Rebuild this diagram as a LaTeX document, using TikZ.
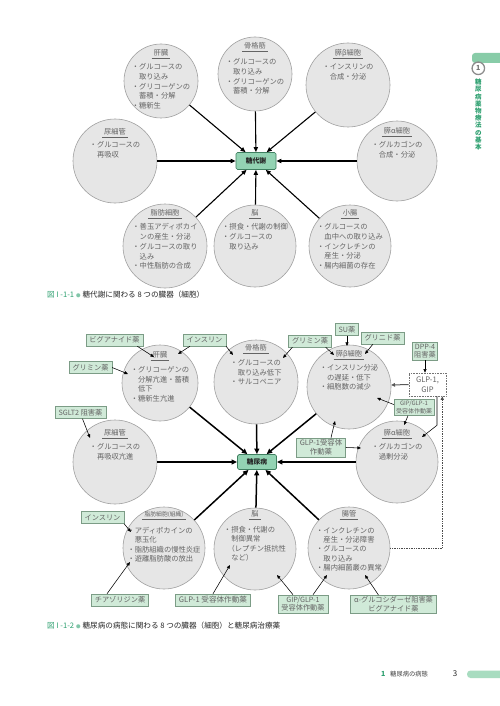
\documentclass[tikz,border=0pt]{standalone}
\usepackage{fontspec}
\setmainfont{Noto Sans CJK JP}
\usetikzlibrary{arrows.meta}
\definecolor{cfill}{HTML}{E6E6E6}
\definecolor{cline}{HTML}{A0A0A0}
\definecolor{tgray}{HTML}{646464}
\definecolor{hubfill}{HTML}{93D3B3}
\definecolor{hubline}{HTML}{3F7F60}
\definecolor{dfill}{HTML}{D0EAD8}
\definecolor{dline}{HTML}{7C9C86}
\definecolor{capgreen}{HTML}{2EA070}
\definecolor{tabgreen}{HTML}{88CCA8}
\definecolor{bargreen}{HTML}{A8DCC0}
\newcommand{\jin}{\hspace*{1em}}
\newcommand{\orgn}[8]{%
  \node[organ, minimum size=2*#4pt] (#1) at (#2,#3) {};
  \node[otitle] (#1t) at (#2,#5) {#7};
  \draw[uline] ([xshift=-2pt,yshift=-1.4pt]#1t.south west) -- ([xshift=2pt,yshift=-1.4pt]#1t.south east);
  \node[obody] (#1b) at (#2,#6) {#8};
}
\begin{document}
\begin{tikzpicture}[x=1pt,y=-1pt,
  organ/.style={circle,draw=cline,fill=cfill,line width=0.6pt,inner sep=0pt},
  otitle/.style={font=\fontsize{7.2}{8}\selectfont,text=tgray,inner sep=0pt},
  obody/.style={font=\fontsize{7.3}{\orgleading}\selectfont,text=tgray,align=left,inner sep=0pt,anchor=north},
  uline/.style={draw=tgray,line width=0.45pt},
  hub/.style={draw=hubline,fill=hubfill,rounded corners=1.5pt,line width=0.7pt,font=\fontsize{6.8}{8}\selectfont\bfseries,text=black!85,inner sep=0pt},
  drug/.style={draw=dline,fill=dfill,line width=0.5pt,font=\fontsize{7.2}{8.6}\selectfont,text=tgray,inner xsep=3.4pt,inner ysep=1.6pt,align=center,minimum height=12pt},
  glpbox/.style={draw=black!55,densely dotted,line width=0.6pt,fill=white,font=\fontsize{7.6}{9.5}\selectfont,text=tgray,align=center,inner xsep=2pt,inner ysep=1.5pt,minimum width=37pt,minimum height=23pt},
  conn/.style={-{Triangle[length=5pt,width=4.2pt]},line width=1.1pt},
  connb/.style={-{Triangle[length=5.5pt,width=4.8pt]},line width=1.5pt},
  darr/.style={-{Triangle[length=3.6pt,width=3pt]},line width=0.55pt},
  garr/.style={-{Triangle[length=4pt,width=3.5pt]},line width=1pt,black!65},
  dotarr/.style={densely dotted,line width=0.7pt,black!70,-{Triangle[length=3.5pt,width=3pt]}},
  capt/.style={anchor=west,inner sep=0pt,font=\fontsize{7.6}{9}\selectfont,text=black!85}
]
\fill[white] (0,0) rectangle (500,706);
\useasboundingbox (0,0) rectangle (500,706);

% ---------- Figure 1 ----------
\def\orgleading{9.7}
\node[hub, minimum width=40pt, minimum height=17pt] (hub1) at (256,161) {糖代謝};
\orgn{liv1}{161}{81}{37}{53}{63.5}{肝臓}{・グルコースの\\\jin 取り込み\\・グリコーゲンの\\\jin 蓄積・分解\\・糖新生}
\orgn{mus1}{255}{74}{37}{46}{58.5}{骨格筋}{・グルコースの\\\jin 取り込み\\・グリコーゲンの\\\jin 蓄積・分解}
\orgn{beta1}{348}{85}{42}{53}{63.5}{膵β細胞}{・インスリンの\\\jin 合成・分泌}
\orgn{kid1}{115}{161}{42}{132}{141.5}{尿細管}{・グルコースの\\\jin 再吸収}
\orgn{alpha1}{397}{161}{40}{131}{141.5}{膵α細胞}{・グルカゴンの\\\jin 合成・分泌}
\orgn{fat1}{165}{246}{42}{213}{223.5}{脂肪細胞}{・善玉アディポカイ\\\jin ンの産生・分泌\\・グルコースの取り\\\jin 込み\\・中性脂肪の合成}
\orgn{brain1}{255}{246}{41}{213}{223.5}{脳}{・摂食・代謝の制御\\・グルコースの\\\jin 取り込み}
\orgn{gut1}{350}{246}{41}{213}{223.5}{小腸}{・グルコースの\\\jin 血中への取り込み\\・インクレチンの\\\jin 産生・分泌\\・腸内細菌の存在}
\foreach \o in {liv1,mus1,beta1,kid1,alpha1,fat1,brain1,gut1} \draw[conn] (\o) -- (hub1);

\node[capt] (cap1) at (47,295) {\textcolor{capgreen}{図 I -1-1}\hspace{2pt}\textcolor{capgreen!60}{\fontsize{4.5}{5}\selectfont ●}\hspace{2pt}糖代謝に関わる 8 つの臓器（細胞）};

% ---------- Figure 2 ----------
\def\orgleading{9.4}
\node[hub, minimum width=39pt, minimum height=15pt] (hub2) at (257,462) {糖尿病};
\orgn{liv2}{160}{383}{38}{355}{366.5}{肝臓}{・グリコーゲンの\\\jin 分解亢進・蓄積\\\jin 低下\\・糖新生亢進}
\orgn{mus2}{256}{382}{42}{348}{359.5}{骨格筋}{・グルコースの\\\jin 取り込み低下\\・サルコペニア}
\orgn{beta2}{349}{387}{42}{354}{364.5}{膵β細胞}{・インスリン分泌\\\jin の遅延・低下\\・細胞数の減少}
\orgn{kid2}{115}{462}{42}{433}{443.5}{尿細管}{・グルコースの\\\jin 再吸収亢進}
\orgn{alpha2}{397}{462}{41}{433}{443.5}{膵α細胞}{・グルカゴンの\\\jin 過剰分泌}
\orgn{fat2}{164}{548}{41}{515}{527}{{\fontsize{5.8}{7}\selectfont 脂肪細胞(組織)}}{・アディポカインの\\\jin 悪玉化\\・脂肪組織の慢性炎症\\・遊離脂肪酸の放出}
\orgn{brain2}{255}{549}{41}{514}{526}{脳}{・摂食・代謝の\\\jin 制御異常\\\hspace*{0.5em}（レプチン抵抗性\\\jin など）}
\orgn{gut2}{349}{548}{41}{514}{527}{腸管}{・インクレチンの\\\jin 産生・分泌障害\\・グルコースの\\\jin 取り込み\\・腸内細菌叢の異常}
\foreach \o in {liv2,mus2,beta2,kid2,alpha2,fat2,brain2,gut2} \draw[connb] (\o) -- (hub2);

% drugs
\node[drug] (bigu) at (114.5,340) {ビグアナイド薬};
\node[drug] (insA) at (204.5,340) {インスリン};
\node[drug] (grimA) at (90.5,367.5) {グリミン薬};
\node[drug] (grimB) at (310,341) {グリミン薬};
\node[drug] (su) at (347,329.5) {SU薬};
\node[drug] (glin) at (382.5,338) {グリニド薬};
\node[drug, inner xsep=1.5pt] (dpp) at (425,351) {DPP-4\\阻害薬};
\node[glpbox] (glp) at (427.5,384.5) {GLP-1,\\GIP};
\node[drug, font=\fontsize{6}{7.6}\selectfont, inner xsep=2pt] (gipr) at (414,407.5) {GIP/GLP-1\\受容体作動薬};
\node[drug, font=\fontsize{7.4}{9}\selectfont] (glp1r) at (321,447.5) {GLP-1受容体\\作動薬};
\node[drug] (sglt) at (80.5,412.5) {SGLT2 阻害薬};
\node[drug] (insB) at (102.5,517.5) {インスリン};
\node[drug] (thia) at (120,600) {チアゾリジン薬};
\node[drug, font=\fontsize{7.6}{9}\selectfont] (glp1b) at (213,600) {GLP-1 受容体作動薬};
\node[drug] (gipb) at (303,604) {GIP/GLP-1\\受容体作動薬};
\node[drug] (agi) at (393.5,604.5) {α-グルコシダーゼ阻害薬\\ビグアナイド薬};

\coordinate (e1) at (154,357);
\coordinate (e2) at (178,354);
\coordinate (e3) at (233,355);
\coordinate (e4) at (128,374);
\coordinate (e5) at (283,358);
\coordinate (e6) at (334,355);
\coordinate (e7) at (347,346);
\coordinate (e8) at (365,354);
\coordinate (e9) at (391,385);
\coordinate (e10) at (422,437);
\coordinate (e11) at (377,398);
\coordinate (e12) at (404,425);
\coordinate (e13) at (335,421);
\coordinate (e14) at (361,448);
\coordinate (e15) at (90,438);
\coordinate (e16) at (131,532);
\coordinate (e17) at (130,562);
\coordinate (e18) at (230,565);
\coordinate (e19) at (277,575);
\coordinate (e20) at (327,575);
\coordinate (e21) at (365,575);

\draw[darr] ([xshift=-6pt]bigu.south east) -- (e1);
\draw[darr] ([xshift=7pt]insA.south west) -- (e2);
\draw[darr] (insA.south east) -- (e3);
\draw[darr] (grimA.east) -- (e4);
\draw[darr] ([xshift=4pt]grimB.south west) -- (e5);
\draw[darr] ([xshift=-6pt]grimB.south east) -- (e6);
\draw[darr] (su.south) -- (e7);
\draw[darr] ([xshift=12pt]glin.south west) -- (e8);
\draw[darr] (dpp.south) -- (dpp.south |- glp.north);
\draw[garr] (glp.west) -- (e9);
\draw[darr] ([xshift=9.5pt]glp.south) -- ++(0,29) -- (e10);
\draw[dotarr] (gut2.east) -| ([xshift=-4pt]glp.south east);
\draw[darr] ([yshift=3pt]gipr.west) -- (e11);
\draw[darr] ([xshift=-6pt]gipr.south) -- (e12);
\draw[darr] ([xshift=10pt]glp1r.north) -- (e13);
\draw[darr] (glp1r.east) -- (e14);
\draw[darr] ([xshift=2pt]sglt.south) -- (e15);
\draw[darr] (insB.south east) -- (e16);
\draw[darr] ([xshift=-13pt]thia.north) -- (e17);
\draw[darr] (glp1b.north) -- (e18);
\draw[darr] ([xshift=-10pt]gipb.north) -- (e19);
\draw[darr] ([xshift=10pt]gipb.north) -- (e20);
\draw[darr] ([xshift=-15pt]agi.north) -- (e21);

\node[capt] (cap2) at (47,626) {\textcolor{capgreen}{図 I -1-2}\hspace{2pt}\textcolor{capgreen!60}{\fontsize{4.5}{5}\selectfont ●}\hspace{2pt}糖尿病の病態に関わる 8 つの臓器（細胞）と糖尿病治療薬};

% ---------- page decorations ----------
\fill[tabgreen, rounded corners=3pt] (472,53) rectangle (512,63);
\node[circle, draw=black!45, line width=1.3pt, fill=white, minimum size=12.5pt, inner sep=0pt, font=\fontsize{7}{8}\selectfont\bfseries, text=black!55] (chap) at (478.3,68.3) {1};
\node[anchor=north, inner sep=0pt, align=center, font=\fontsize{6.5}{7.2}\selectfont\bfseries, text=capgreen] (vtext) at (478.3,79) {糖\\尿\\病\\薬\\物\\療\\法\\の\\基\\本};

\node[anchor=base west, inner sep=0pt, font=\fontsize{7}{8}\selectfont\bfseries, text=capgreen] (f1) at (381,676) {1};
\node[anchor=base west, inner sep=0pt, font=\fontsize{6.3}{8}\selectfont, text=black!75] (f2) at (390,676) {糖尿病の病態};
\node[anchor=base, inner sep=0pt, font=\fontsize{8}{9}\selectfont, text=black!85] (f3) at (455,676.5) {3};
\fill[bargreen, rounded corners=3.5pt] (467,670.5) rectangle (512,678);
\end{tikzpicture}
\end{document}
